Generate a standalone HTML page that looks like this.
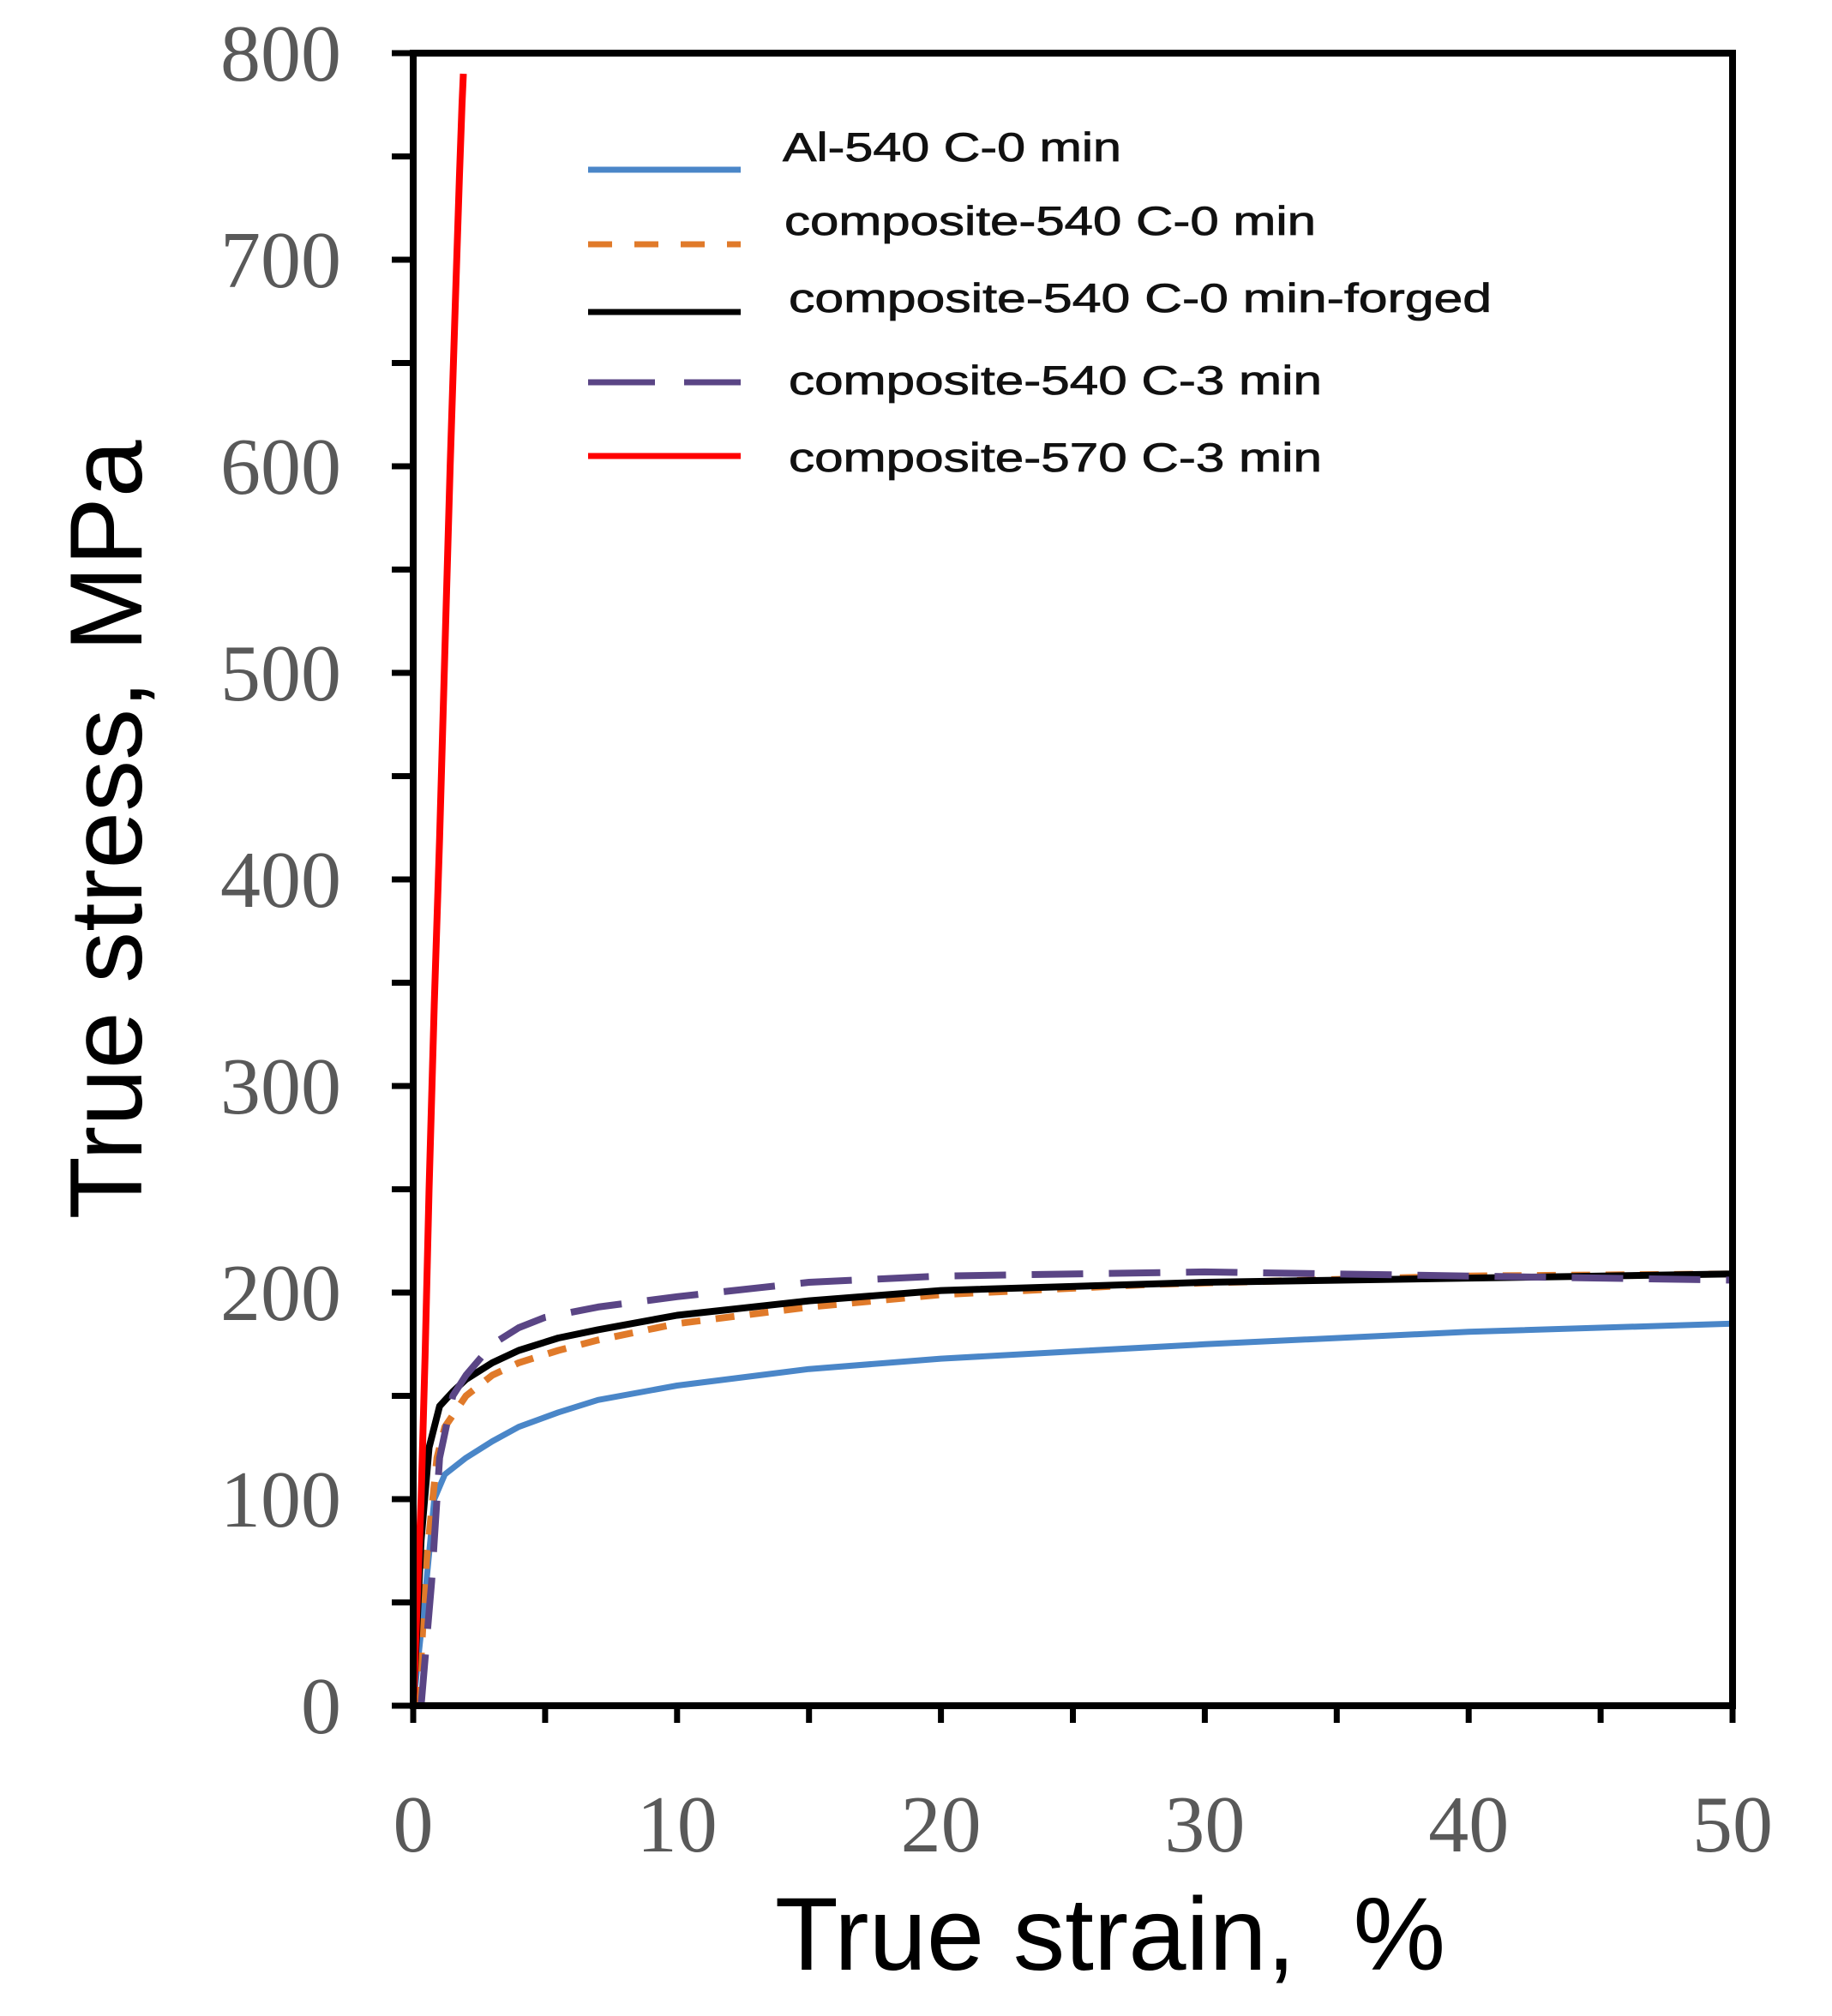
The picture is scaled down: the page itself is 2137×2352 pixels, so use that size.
<!DOCTYPE html>
<html><head><meta charset="utf-8"><style>
html,body{margin:0;padding:0;background:#fff;}
svg{display:block;}
</style></head><body>
<svg id="s" width="2137" height="2352" viewBox="0 0 2137 2352" xmlns="http://www.w3.org/2000/svg">
<rect width="2137" height="2352" fill="#fff"/>
<g id="ticks" stroke="#000" stroke-width="7"></g>
<g id="curves" fill="none" stroke-linejoin="round"></g>
<rect x="482" y="62" width="1539" height="1928" fill="none" stroke="#000" stroke-width="8"/>
<g id="labels" font-family="Liberation Serif, serif" font-size="94" fill="#595959"></g>
<text x="0" y="0" transform="translate(165,968) rotate(-90)" text-anchor="middle" font-family="Liberation Sans, sans-serif" font-size="120" fill="#000">True stress, MPa</text>
<text x="1295" y="2298" text-anchor="middle" font-family="Liberation Sans, sans-serif" font-size="121" fill="#000" xml:space="preserve">True strain,  %</text>
<g font-family="Liberation Sans, sans-serif" font-size="47" fill="#111" stroke="#111" stroke-width="0.8">
<text x="913" y="188" textLength="395" lengthAdjust="spacingAndGlyphs">Al-540 C-0 min</text>
<text x="915" y="274" textLength="620" lengthAdjust="spacingAndGlyphs">composite-540 C-0 min</text>
<text x="920" y="364" textLength="820" lengthAdjust="spacingAndGlyphs">composite-540 C-0 min-forged</text>
<text x="920" y="460" textLength="622" lengthAdjust="spacingAndGlyphs">composite-540 C-3 min</text>
<text x="920" y="550" textLength="622" lengthAdjust="spacingAndGlyphs">composite-570 C-3 min</text>
</g>
<line x1="686" y1="198" x2="864" y2="198" stroke="#4a86c8" stroke-width="7"/>
<line x1="686" y1="285" x2="864" y2="285" stroke="#e07a2a" stroke-width="7" stroke-dasharray="28,26"/>
<line x1="686" y1="364" x2="864" y2="364" stroke="#000" stroke-width="7"/>
<line x1="686" y1="446" x2="864" y2="446" stroke="#5a4585" stroke-width="7" stroke-dasharray="78,34"/>
<line x1="686" y1="532" x2="864" y2="532" stroke="#ff0000" stroke-width="7"/>
</svg>
<script>
var NS="http://www.w3.org/2000/svg";
function X(x){return 482+30.78*x;} function Y(y){return 1990-2.41*y;}
function el(t,a,p){var e=document.createElementNS(NS,t);for(var k in a)e.setAttribute(k,a[k]);p.appendChild(e);return e;}
var tk=document.getElementById('ticks'),lb=document.getElementById('labels'),cv=document.getElementById('curves');
for(var v=0;v<=800;v+=50){var y=Y(v);el('line',{x1:457,y1:y,x2:482,y2:y},tk);
 if(v%100==0){var t=el('text',{x:398,y:y+32,'text-anchor':'end'},lb);t.textContent=v;}}
for(var v=0;v<=50;v+=5){var x=X(v);el('line',{x1:x,y1:1990,x2:x,y2:2010},tk);
 if(v%10==0){var t=el('text',{x:x,y:2160,'text-anchor':'middle'},lb);t.textContent=v;}}
function path(pts,c,w,d){var s='';pts.forEach(function(p,i){s+=(i?'L':'M')+X(p[0]).toFixed(1)+' '+Y(p[1]).toFixed(1);});
 var a={d:s,stroke:c,'stroke-width':w};if(d)a['stroke-dasharray']=d;el('path',a,cv);}
path([[0,0],[0.5,60],[0.8,100],[1.2,112],[2,120],[3,128],[4,135],[5.5,142],[7,148],[10,155],[15,163],[20,168],[30,175],[40,181],[50,185]],'#4a86c8',7);
path([[0.2,0],[0.5,70],[0.9,120],[1.2,135],[2,150],[3,160],[4,166],[5.5,172],[7,177],[10,185],[15,193],[20,199],[28,204],[40,208],[50,209]],'#e07a2a',8,'22,18');
path([[0,0],[0.3,80],[0.6,125],[1,145],[1.5,152],[2,158],[3,166],[4,172],[5.5,178],[7,182],[10,189],[15,196],[20,201],[30,205],[40,207],[50,209]],'#000',8);
path([[0.3,0],[0.7,60],[1,120],[1.5,150],[2,160],[3,175],[4,183],[5,188],[7,193],[10,198],[15,205],[20,208],[30,210],[40,208],[50,206]],'#5a4585',8,'60,30');
path([[0,0],[0.3,100],[0.45,170],[0.6,250],[0.8,340],[1.0,420],[1.2,510],[1.4,600],[1.6,680],[1.75,740],[1.85,775],[1.9,790]],'#ff0000',8);
</script>
</body></html>
